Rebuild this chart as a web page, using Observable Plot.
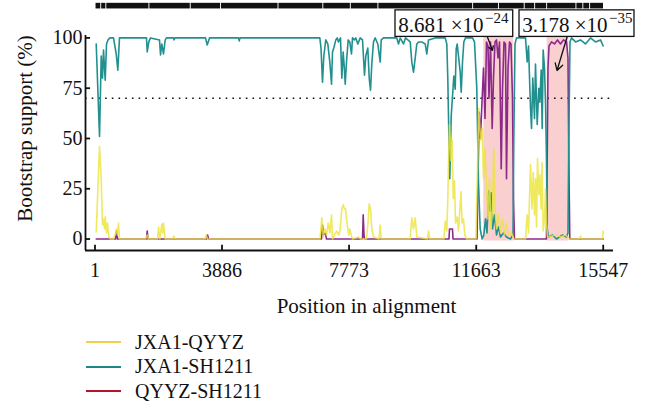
<!DOCTYPE html>
<html>
<head>
<meta charset="utf-8">
<script src="https://cdn.jsdelivr.net/npm/d3@7"></script>
<script src="https://cdn.jsdelivr.net/npm/@observablehq/plot@0.6"></script>
<style>
  html, body { margin: 0; padding: 0; background: #fff; }
  #wrap { width: 645px; height: 404px; overflow: hidden; }
  #legend { margin-left: 86px; margin-top: 5px; font-family: "Liberation Serif", "DejaVu Serif", serif; font-size: 20px; color: #111; }
  .row { display: flex; align-items: center; height: 24.5px; }
  .sw { width: 35px; height: 2px; margin-right: 14px; }
</style>
</head>
<body>
<div id="wrap"></div>
<script>
// ---------- data ----------
const seriesNames = ["JXA1-QYYZ", "JXA1-SH1211", "QYYZ-SH1211"];
const lineColors = ["#ece43c", "#22908f", "#8c2a8c"];
const legendColors = ["#f0d04a", "#1f8585", "#b0182a"];

const xTicks = [1, 3886, 7773, 11663, 15547];
const yTicks = [0, 25, 50, 75, 100];
const threshold = 70;

// JXA1-SH1211 (teal)
const tealPos = [38,139,191,230,261,313,353,399,460,567,650,699,750,1576,1598,1647,1699,1974,2005,2044,2096,2148,2188,2402,2417,2448,3381,3433,3504,4391,4412,4437,6878,6914,6960,7000,7061,7122,7184,7236,7266,7306,7367,7410,7450,7511,7551,7593,7624,7655,7694,7746,7795,7847,7878,7939,7979,8040,8114,8184,8245,8285,8346,8389,8429,8468,8520,8572,8652,8725,8756,8826,9233,9285,9337,9438,9499,9643,9692,9744,9796,9845,9897,9998,10102,10151,10203,10408,10714,10763,10793,10824,10854,10897,10937,10977,11019,11050,11081,11120,11173,11203,11243,11283,11335,11549,11610,11680,11732,11784,11845,11895,11946,11992,12047,12093,12115,12161,12222,12283,12344,12405,12497,12589,12711,12788,12812,12849,12895,13170,13222,13262,13323,13354,13393,13445,13476,13528,13577,13608,13650,13681,13711,13751,13782,13812,13834,13873,13996,14118,14302,14424,14470,14495,14531,14577,14700,14852,15005,15158,15311,15464,15547];
const tealVal = [97,51,91,80,94,79,97,99,100,100,92,84,100,100,93,98,100,99,91.5,97,92,99,100,100,99,100,100,96.5,100,100,98.5,100,100,95,78,91,99,97,88,77,93,95,99,100,98,100,80,93,86,77,88,99,98,92,100,99,100,97,100,99,81.5,91,95,80,74,87,98,100,97,88,99,100,100,97,100,97,100,98,88,83,90,97,98,98,97,92,99,100,100,97,80,53,30,61,71,81,74.5,94.5,97,91,83,73,88,98,100,100,98,75,28,5,0,2,10,3,24,14,23,5,12,2,6,1,3,1,0,2,50,97,100,100,88,96,65,55,80,60,87,57,75,68,84,55,94,85,68,40,5,1,2,0,2,1,3,50,98,100,98,99,97,100,98,99,96];

// JXA1-QYYZ (yellow)
const yellowPos = [38,139,191,230,261,292,313,353,383,423,475,567,613,659,689,720,750,1546,1598,1638,1913,1944,1983,2044,2075,2096,2148,2387,2412,2448,3366,3403,3443,6884,6939,6982,7031,7083,7135,7184,7236,7266,7327,7388,7459,7496,7551,7593,7633,7664,7716,7765,7795,7838,7878,8061,8123,8306,8352,8389,8429,8468,8520,8689,8725,8756,9285,9643,9692,9744,9796,9845,10172,10203,10243,10677,10714,10763,10793,10824,10845,10867,10885,10928,10959,10998,11029,11081,11120,11151,11197,11228,11273,11313,11365,11656,11692,11741,11793,11845,11885,11931,11977,12023,12069,12115,12161,12200,12237,12283,12344,12405,12467,12528,12589,12650,12742,12812,13170,13222,13262,13323,13369,13406,13445,13476,13507,13537,13577,13608,13650,13675,13711,13751,13782,13812,13843,14088,14241,14394,14516,14822,14852,14883,15525,15547];
const yellowVal = [3.5,46,30,7,10,5,11,3,8,1,0,0,2,5,2,8,0,0,2,0,0,6,0,7.5,3,8,0,0,1.5,0,0,2,0,0,10.5,1,5,2,8,3,12,0,2,4,2,4,15,17,15,15,7,2,5,2,0,1,0,0,8,17.5,15,5,1,0,7,0,0,0,10.5,5,10.5,1,0,4,0,0,9,4,20,45,57,50,39,49,20,29,8,11,4,12,23.5,8,10,2,0,0,29,65,49,55,30,45,25,10,30,5,15,45,15,5,12,3,10,2,8,2,3,0,0,12,3,37,15,33,12,30,6,40,22,32,15,38,4,10,25,8,1,2,1,2,0,0,1.5,0,0,4];

// QYYZ-SH1211 (purple)
const purplePos = [38,628,659,689,1576,1598,1622,3412,3443,3474,6930,6960,6991,7052,7083,8184,8205,8230,8245,10830,10845,10937,10952,11686,11717,11754,11793,11839,11885,11931,11977,12023,12053,12099,12151,12191,12237,12283,12329,12375,12427,12467,12512,12558,12589,12635,12681,12726,12772,12802,12833,13812,13834,13858,13889,13965,14057,14149,14241,14332,14424,14470,14495,14525,15547];
const purpleVal = [0,0,4,0,0,4,0,0,2,0,0,7,2,3,0,0,12,2,0,0,5,5,0,0,30,63,50,68,85,60,98,96,70,98,55,80,98,99,90,98,35,75,98,97,30,85,98,97,70,20,0,0,40,85,96,98,97,99,97,99,98,90,40,0,0];

// highlighted recombination regions (alignment positions)
const regionStart = [11894, 13834];
const regionEnd = [12812, 14495];

// p-value annotations
const pMantissa = ["8.681 ×10", "3.178 ×10"];
const pExponent = ["−24", "−35"];
const boxX1 = [9193, 12987];
const boxX2 = [12794, 16504];
const textEndX = [11885, 15678];
const arrowX1 = [12008, 14440];
const arrowX2 = [12161, 14134];
const arrowY2 = [93.8, 83.8];

// top site bar gaps (alignment positions)
const siteBarStart = 32, siteBarEnd = 15556;
const siteBarGaps = [191, 347, 1665, 2929, 3856, 5614, 6985, 7826, 8670, 11568, 12357, 13146, 13465, 13832, 14728, 14939, 15147];

// ---------- build tables ----------
const mk = (pos, val) => pos.map((p, i) => ({x: p, y: val[i]}));
const teal = mk(tealPos, tealVal);
const yellow = mk(yellowPos, yellowVal);
const purple = mk(purplePos, purpleVal);
const regions = regionStart.map((s, i) => ({x1: s, x2: regionEnd[i]}));
const ann = pMantissa.map((m, i) => ({m, e: pExponent[i], bx1: boxX1[i], bx2: boxX2[i], tx: textEndX[i], ax1: arrowX1[i], ax2: arrowX2[i], ay2: arrowY2[i]}));
const bounds = [siteBarStart, ...siteBarGaps, siteBarEnd];
const siteSegs = d3.pairs(bounds).map(([a, b], i) => ({x1: i === 0 ? a : a + 14, x2: i === bounds.length - 2 ? b : b - 14}));

const xDomain = [-290, 15862];
const yDomain = [-5.7, 101.2];
const font = "'Liberation Serif', 'DejaVu Serif', serif";

const chart = Plot.plot({
  width: 645,
  height: 325,
  marginLeft: 85,
  marginRight: 32,
  marginTop: 35,
  marginBottom: 75,
  x: {domain: xDomain},
  y: {domain: yDomain},
  style: {fontFamily: font, fontSize: "20px", color: "#111", background: "white", overflow: "visible"},
  marks: [
    Plot.rect(regions, {x1: "x1", x2: "x2", y1: -1, y2: 101, fill: "#f9cfcf"}),
    Plot.ruleY([threshold], {stroke: "#111", strokeWidth: 1.6, strokeDasharray: "1.6,5.1"}),
    Plot.line(purple, {x: "x", y: "y", stroke: lineColors[2], strokeWidth: 1.6}),
    Plot.line(teal, {x: "x", y: "y", stroke: lineColors[1], strokeWidth: 1.6}),
    Plot.line(yellow, {x: "x", y: "y", stroke: lineColors[0], strokeWidth: 1.6, strokeOpacity: 0.82}),
    // axes lines
    Plot.ruleX([xDomain[0]], {y1: yDomain[0], y2: yDomain[1], stroke: "#111", strokeWidth: 1.8}),
    Plot.ruleY([yDomain[0]], {x1: xDomain[0], x2: xDomain[1], stroke: "#111", strokeWidth: 1.8}),
    // inward ticks
    Plot.ruleX(xTicks, {y1: yDomain[0], y2: yDomain[0] + 2.6, stroke: "#111", strokeWidth: 1.8}),
    Plot.ruleY(yTicks, {x1: xDomain[0], x2: xDomain[0] + 155, stroke: "#111", strokeWidth: 1.8}),
    Plot.axisX({ticks: xTicks, tickSize: 0, tickPadding: 12, tickFormat: d => String(d), label: null, fontSize: 20}),
    Plot.axisY({ticks: yTicks, tickSize: 0, tickPadding: 3, tickFormat: d => String(d), label: null, fontSize: 20}),
    Plot.text(["Position in alignment"], {frameAnchor: "bottom", textAnchor: "middle", lineAnchor: "middle", dy: 56, dx: 17, fontSize: 21, fill: "#111"}),
    Plot.text(["Bootstrap support (%)"], {frameAnchor: "left", textAnchor: "middle", lineAnchor: "middle", rotate: -90, dx: -60, dy: -14.5, fontSize: 21, fill: "#111"}),
    // top site bar
    Plot.rect(siteSegs, {x1: "x1", x2: "x2", y1: 114.4, y2: 117.2, fill: "#111"}),
    // annotations
    Plot.arrow(ann, {x1: "ax1", y1: 100.3, x2: "ax2", y2: "ay2", stroke: "#111", strokeWidth: 1.3, headLength: 9}),
    Plot.rect(ann, {x1: "bx1", x2: "bx2", y1: 100.5, y2: 113.7, fill: "white", stroke: "#111", strokeWidth: 1.3}),
    Plot.text(ann, {x: "tx", y: 106.1, text: "m", textAnchor: "end", fontSize: 21, fill: "#111"}),
    Plot.text(ann, {x: "tx", y: 109.6, text: "e", textAnchor: "start", dx: 1.5, fontSize: 15, fill: "#111"})
  ]
});

const wrap = document.getElementById("wrap");
wrap.appendChild(chart);

const legend = document.createElement("div");
legend.id = "legend";
seriesNames.forEach((name, i) => {
  const row = document.createElement("div");
  row.className = "row";
  const sw = document.createElement("span");
  sw.className = "sw";
  sw.style.background = legendColors[i];
  const t = document.createElement("span");
  t.textContent = name;
  row.appendChild(sw);
  row.appendChild(t);
  legend.appendChild(row);
});
wrap.appendChild(legend);
</script>
</body>
</html>
